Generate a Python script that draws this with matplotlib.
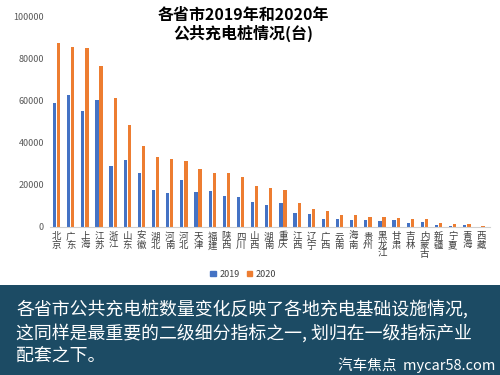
import numpy as np
import matplotlib
matplotlib.use("Agg")
import matplotlib.pyplot as plt
from matplotlib.patches import Rectangle, Patch

plt.rcParams["font.family"] = ["Noto Sans CJK SC", "DejaVu Sans"]

# ── data ──
provinces = ["北京", "广东", "上海", "江苏", "浙江", "山东", "安徽", "湖北", "河南", "河北",
             "天津", "福建", "陕西", "四川", "山西", "湖南", "重庆", "江西", "辽宁", "广西",
             "云南", "海南", "贵州", "黑龙江", "甘肃", "吉林", "内蒙古", "新疆", "宁夏", "青海", "西藏"]
y2019 = [58900, 62700, 55000, 60400, 29000, 32000, 25800, 17500, 15900, 22100,
         16500, 17200, 14800, 14000, 11800, 10400, 11100, 6500, 5900, 3500,
         3700, 3300, 3200, 2700, 3300, 1800, 2400, 950, 330, 800, 20]
y2020 = [87500, 85600, 85100, 76600, 61200, 48600, 38600, 33200, 32400, 31500,
         27700, 25800, 25400, 23500, 19300, 18300, 17400, 11100, 8300, 7500,
         5700, 5700, 4800, 4600, 4300, 3700, 3500, 1900, 1400, 1100, 150]
years = ["2019", "2020"]
colors = ["#4472C4", "#ED7D31"]

title = "各省市2019年和2020年\n公共充电桩情况(台)"
caption = ["各省市公共充电桩数量变化反映了各地充电基础设施情况,",
           "这同样是最重要的二级细分指标之一, 划归在一级指标产业",
           "配套之下。"]
source = "汽车焦点  mycar58.com"

fig = plt.figure(figsize=(5, 3.75), dpi=100)
fig.patch.set_facecolor("white")

# ── chart ──
ax = fig.add_axes([0.099, 0.3955, 0.88, 0.5592])
x = np.arange(len(provinces))
w = 0.23
ax.bar(x - 0.145, y2019, width=w, color=colors[0])
ax.bar(x + 0.145, y2020, width=w, color=colors[1])
ax.set_xlim(-0.5, 30.6)
ax.set_ylim(0, 100000)
ax.set_yticks(range(0, 100001, 20000))
ax.tick_params(axis="y", length=0, labelsize=6.5, labelcolor="#595959", pad=4)
ax.set_xticks(x)
ax.set_xticklabels(["\n".join(p) for p in provinces], fontsize=6.8,
                   color="#404040", linespacing=0.95, va="top")
ax.tick_params(axis="x", length=0, pad=4)
for s in ["top", "right", "left"]:
    ax.spines[s].set_visible(False)
ax.spines["bottom"].set_color("#d0d0d0")

fig.text(0.487, 0.935, title, ha="center", va="center", fontsize=11.5,
         fontweight="bold", color="black", linespacing=1.15)

handles = [Patch(color=c, label=l) for c, l in zip(colors, years)]
fig.legend(handles=handles, loc="center", bbox_to_anchor=(0.487, 0.269), ncol=2,
           frameon=False, fontsize=6.5, handlelength=0.6, handleheight=0.6,
           handletextpad=0.4, columnspacing=0.8, labelcolor="#404040")

# ── caption band ──
fig.patches.append(Rectangle((0, 0), 1, 0.24, transform=fig.transFigure,
                             facecolor="#1c4b64", edgecolor="none", zorder=0))
for i, line in enumerate(caption):
    fig.text(0.032, 0.176 - i * 0.064, line, ha="left", va="center",
             fontsize=12.9, color="white")
fig.text(0.99, 0.027, source, ha="right", va="center", fontsize=10.5, color="white")

fig.savefig("out.png", dpi=100)
